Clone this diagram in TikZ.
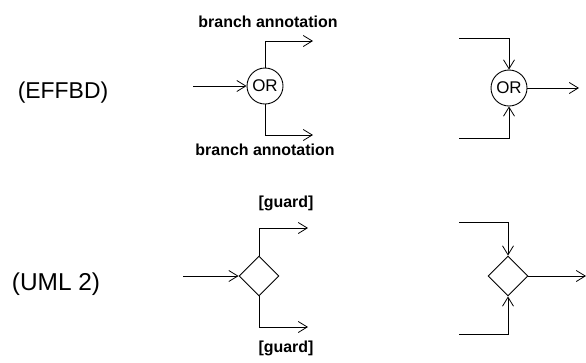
\documentclass[tikz,border=0pt]{standalone}
\usepackage{fontspec}
\setmainfont{Liberation Sans}
\usetikzlibrary{arrows.meta,shapes.geometric}

\tikzset{
  flow/.style={line width=0.8bp, -{Straight Barb[length=9bp,width=11bp,line width=0.8bp]}},
  orgate/.style={circle, draw, line width=0.9bp, minimum size=36bp, inner sep=0pt,
                 font=\fontsize{17}{19}\selectfont},
  decision/.style={diamond, draw, line width=0.9bp, minimum size=40bp, inner sep=0pt, aspect=1},
  notation/.style={anchor=base, font=\fontsize{23}{26}\selectfont},
  annot/.style={anchor=base, font=\bfseries\fontsize{16}{18}\selectfont},
}

\begin{document}
\begin{tikzpicture}[x=1bp, y=-1bp]
  \useasboundingbox (0,0) rectangle (586,362);

  % notation labels
  \node[notation] (effbd) at (63,98) {(EFFBD)};
  \node[notation, font=\fontsize{24.5}{27}\selectfont] (uml) at (56,290) {(UML 2)};

  % EFFBD: OR split
  \node[orgate] (orA) at (265,86) {OR};
  \coordinate (inA)   at (193,86);
  \coordinate (upA)   at (265,41);
  \coordinate (upAe)  at (313,41);
  \coordinate (loA)   at (265,135);
  \coordinate (loAe)  at (313,135);
  \draw[flow] (inA) -- (orA.west);
  \draw[flow] (orA.north) -- (upA) -- (upAe);
  \draw[flow] (orA.south) -- (loA) -- (loAe);
  \node[annot] (annTop) at (268,27)  {branch annotation};
  \node[annot] (annBot) at (265,155) {branch annotation};

  % EFFBD: OR join
  \node[orgate] (orB) at (509,88) {OR};
  \coordinate (inB1)  at (459,38);
  \coordinate (cB1)   at (509,38);
  \coordinate (inB2)  at (459,138);
  \coordinate (cB2)   at (509,138);
  \coordinate (outB)  at (579,88);
  \draw[flow] (inB1) -- (cB1) -- (orB.north);
  \draw[flow] (inB2) -- (cB2) -- (orB.south);
  \draw[flow] (orB.east) -- (outB);

  % UML 2: decision
  \node[decision] (dA) at (259,276) {};
  \coordinate (inC)   at (183,276);
  \coordinate (upC)   at (259,228);
  \coordinate (upCe)  at (308,228);
  \coordinate (loC)   at (259,327);
  \coordinate (loCe)  at (308,327);
  \draw[flow] (inC) -- (dA.west);
  \draw[flow] (dA.north) -- (upC) -- (upCe);
  \draw[flow] (dA.south) -- (loC) -- (loCe);
  \node[annot] (guardTop) at (286,207) {[guard]};
  \node[annot] (guardBot) at (286,352) {[guard]};

  % UML 2: merge
  \node[decision] (dB) at (508,276) {};
  \coordinate (inD1)  at (459,222);
  \coordinate (cD1)   at (508,222);
  \coordinate (inD2)  at (459,334);
  \coordinate (cD2)   at (508,334);
  \coordinate (outD)  at (586,276);
  \draw[flow] (inD1) -- (cD1) -- (dB.north);
  \draw[flow] (inD2) -- (cD2) -- (dB.south);
  \draw[flow] (dB.east) -- (outD);
\end{tikzpicture}
\end{document}
